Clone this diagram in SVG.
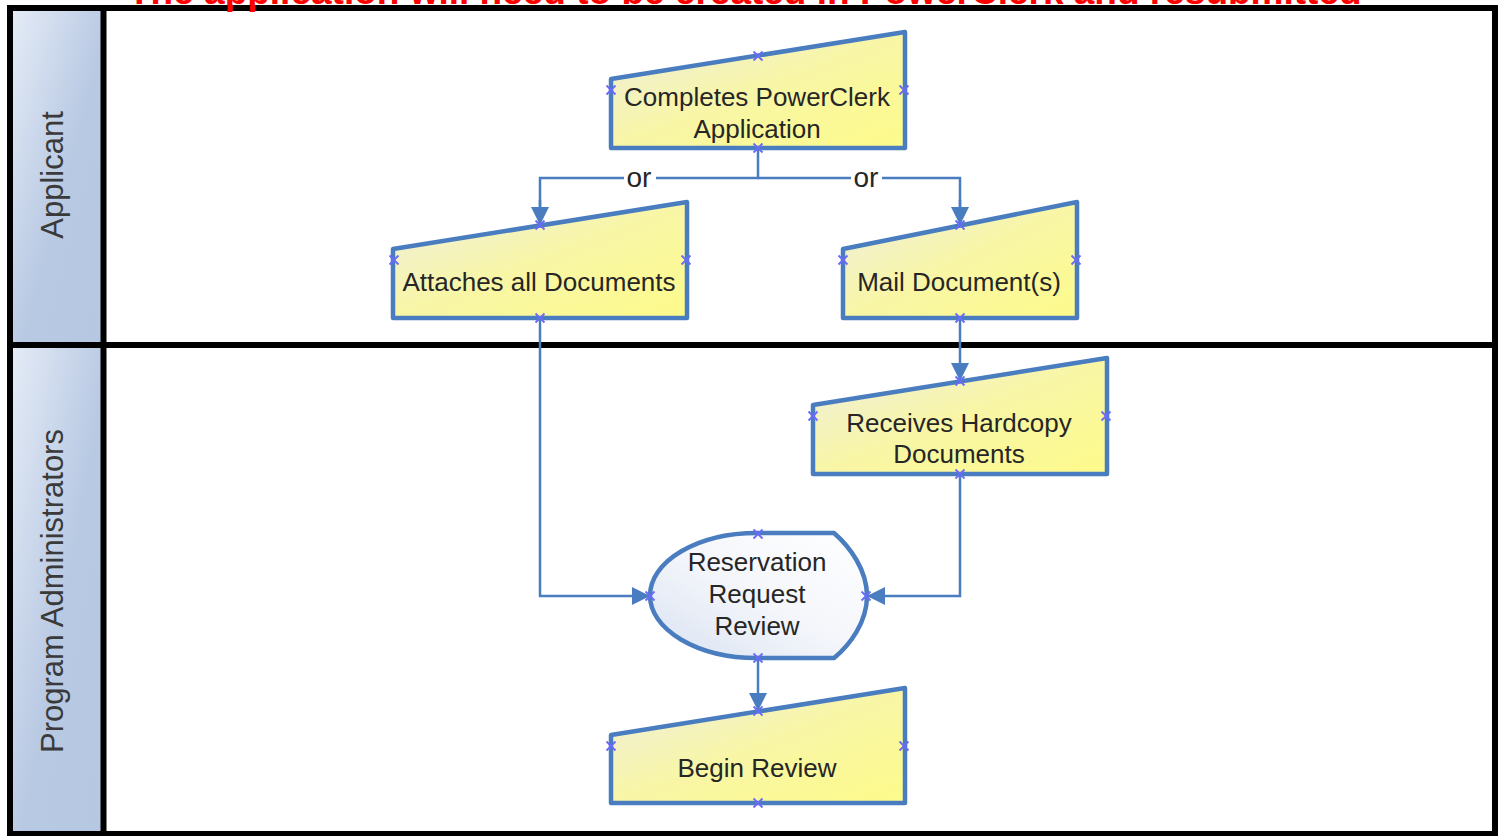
<svg xmlns="http://www.w3.org/2000/svg" xmlns:xlink="http://www.w3.org/1999/xlink" width="1498" height="836" viewBox="0 0 1498 836">
  <style>
    .node { fill: url(#yellow); stroke: #4a7dbf; stroke-width: 4.5; stroke-linejoin: round; }
    .disp { fill: url(#pale); stroke: #4a7dbf; stroke-width: 4.5; stroke-linejoin: round; }
    .lbl { font-family: "Liberation Sans", Arial, sans-serif; font-size: 26px; fill: #262626; text-anchor: middle; }
    .lane { font-family: "Liberation Sans", Arial, sans-serif; font-size: 31px; fill: #3a3a3a; text-anchor: middle; }
    .conn { fill: none; stroke: #4a7dbf; stroke-width: 2.5; }
    .arr { marker-end: url(#ah); }
    .or { font-family: "Liberation Sans", Arial, sans-serif; font-size: 28px; fill: #262626; text-anchor: middle; }
    .xm { fill: none; stroke: #6a6af8; stroke-width: 1.8; }
  </style>
  <defs>
    <linearGradient id="yellow" x1="0" y1="0" x2="1" y2="1">
      <stop offset="0" stop-color="#eeeee2"/>
      <stop offset="0.5" stop-color="#f8f6a6"/>
      <stop offset="1" stop-color="#fdfb8a"/>
    </linearGradient>
    <linearGradient id="pale" x1="1" y1="0" x2="0" y2="1">
      <stop offset="0" stop-color="#ffffff"/>
      <stop offset="0.5" stop-color="#f4f6fb"/>
      <stop offset="1" stop-color="#d9e2f1"/>
    </linearGradient>
    <linearGradient id="hdr" x1="0" y1="0" x2="1" y2="1">
      <stop offset="0" stop-color="#e4ebf6"/>
      <stop offset="0.55" stop-color="#b8c9e3"/>
      <stop offset="1" stop-color="#b6c7e2"/>
    </linearGradient>
    <marker id="ah" viewBox="0 0 10 10" refX="10" refY="5" markerUnits="userSpaceOnUse" markerWidth="20" markerHeight="18" orient="auto">
      <path d="M0,0 L10,5 L0,10 Z" fill="#4a7dbf"/>
    </marker>
    <path id="x" class="xm" d="M-4.5,-4.5 L4.5,4.5 M-4.5,4.5 L4.5,-4.5"/>
  </defs>

  <rect x="0" y="0" width="1498" height="836" fill="#ffffff"/>

  <g id="swimlanes">
    <rect x="13" y="11" width="90" height="334" fill="url(#hdr)"/>
    <rect x="13" y="345" width="90" height="486" fill="url(#hdr)"/>
    <rect x="10" y="8" width="1485" height="826" fill="none" stroke="#000" stroke-width="6"/>
    <line x1="103.5" y1="8" x2="103.5" y2="834" stroke="#000" stroke-width="6"/>
    <line x1="10" y1="345" x2="1495" y2="345" stroke="#000" stroke-width="6"/>
    <text class="lane" transform="translate(63,175) rotate(-90)">Applicant</text>
    <text class="lane" transform="translate(63,591) rotate(-90)">Program Administrators</text>
  </g>

  <g id="connectors">
    <path class="conn" d="M758,148 V178 H656 M624,178 H540 V224"/>
    <path class="conn arr" d="M540,200 V225"/>
    <path class="conn" d="M758,178 H851 M882,178 H960 V224"/>
    <path class="conn arr" d="M960,200 V225"/>
    <text class="or" x="639" y="187">or</text>
    <text class="or" x="866" y="187">or</text>
    <path class="conn arr" d="M540,318 V596 H650"/>
    <path class="conn arr" d="M960,318 V381"/>
    <path class="conn arr" d="M960,474 V596 H867"/>
    <path class="conn arr" d="M758,658 V711"/>
  </g>

  <g id="node-completes">
    <path class="node" d="M611,79 L905,32 L905,148 L611,148 Z"/>
    <text class="lbl" x="757" y="106">Completes PowerClerk</text>
    <text class="lbl" x="757" y="138">Application</text>
    <use xlink:href="#x" x="758" y="56"/>
    <use xlink:href="#x" x="611" y="90"/>
    <use xlink:href="#x" x="904" y="90"/>
    <use xlink:href="#x" x="758" y="148"/>
  </g>

  <g id="node-attaches">
    <path class="node" d="M393,249 L687,202 L687,318 L393,318 Z"/>
    <text class="lbl" x="539" y="291">Attaches all Documents</text>
    <use xlink:href="#x" x="540" y="225"/>
    <use xlink:href="#x" x="394" y="260"/>
    <use xlink:href="#x" x="686" y="260"/>
    <use xlink:href="#x" x="540" y="318"/>
  </g>

  <g id="node-mail">
    <path class="node" d="M843,249 L1077,202 L1077,318 L843,318 Z"/>
    <text class="lbl" x="959" y="291">Mail Document(s)</text>
    <use xlink:href="#x" x="960" y="225"/>
    <use xlink:href="#x" x="843" y="260"/>
    <use xlink:href="#x" x="1076" y="260"/>
    <use xlink:href="#x" x="960" y="318"/>
  </g>

  <g id="node-receives">
    <path class="node" d="M813,405 L1107,358 L1107,474 L813,474 Z"/>
    <text class="lbl" x="959" y="432">Receives Hardcopy</text>
    <text class="lbl" x="959" y="463">Documents</text>
    <use xlink:href="#x" x="960" y="381"/>
    <use xlink:href="#x" x="813" y="416"/>
    <use xlink:href="#x" x="1106" y="416"/>
    <use xlink:href="#x" x="960" y="474"/>
  </g>

  <g id="node-reservation">
    <path class="disp" d="M757,533 L834,533 C850,547 867,570 867,596 C867,622 850,645 834,658 L757,658 A107,62.5 0 0 1 757,533 Z"/>
    <text class="lbl" x="757" y="571">Reservation</text>
    <text class="lbl" x="757" y="603">Request</text>
    <text class="lbl" x="757" y="635">Review</text>
    <use xlink:href="#x" x="758" y="534"/>
    <use xlink:href="#x" x="650" y="596"/>
    <use xlink:href="#x" x="866" y="596"/>
    <use xlink:href="#x" x="758" y="658"/>
  </g>

  <g id="node-begin">
    <path class="node" d="M611,735 L905,688 L905,803 L611,803 Z"/>
    <text class="lbl" x="757" y="777">Begin Review</text>
    <use xlink:href="#x" x="758" y="711"/>
    <use xlink:href="#x" x="611" y="746"/>
    <use xlink:href="#x" x="904" y="746"/>
    <use xlink:href="#x" x="758" y="803"/>
  </g>

  <text x="128" y="3.5" font-family="'Liberation Sans', Arial, sans-serif" font-size="37" font-weight="bold" fill="#ff0000">The application will need to be created in PowerClerk and resubmitted</text>
</svg>
